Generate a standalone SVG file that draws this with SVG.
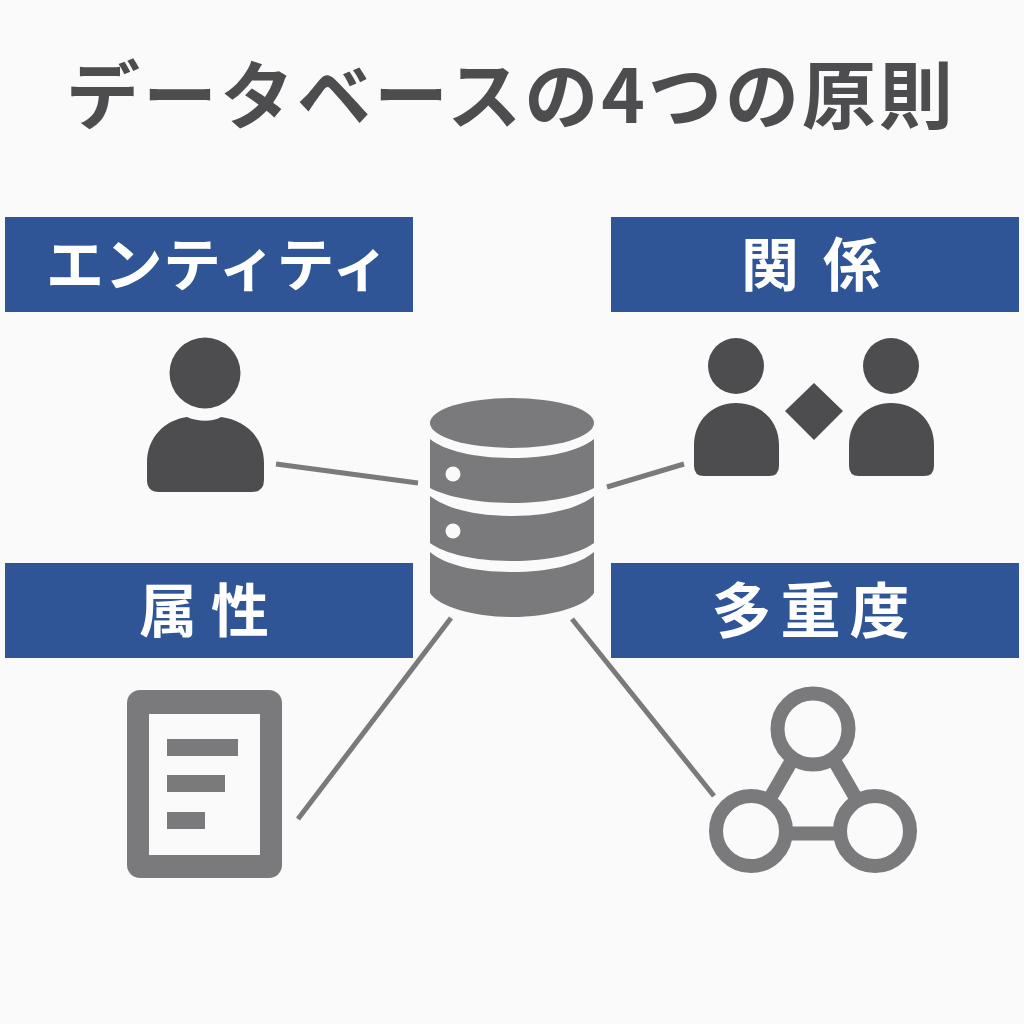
<svg xmlns="http://www.w3.org/2000/svg" width="1024" height="1024" viewBox="0 0 1024 1024">
<style>
.f{font-family:"Noto Sans CJK JP","Noto Sans",sans-serif;font-weight:700}
.h{fill:#fff;font-size:58px;text-anchor:middle}
.b{fill:#2f5597}
.d{fill:#4d4d4f}
.g{fill:#7a7a7c}
.l{stroke:#7a7a7c;stroke-width:5;fill:none}
</style>
<rect width="1024" height="1024" fill="#fafafa"/>
<text id="title" class="f" x="511" y="123" font-size="74" letter-spacing="3" text-anchor="middle" fill="#4d4d4f">データベースの4つの原則</text>
<g id="connectors">
<line class="l" x1="276" y1="464" x2="418" y2="483"/>
<line class="l" x1="607" y1="487" x2="684" y2="464"/>
<line class="l" x1="451" y1="618" x2="298" y2="819"/>
<line class="l" x1="572" y1="619" x2="714" y2="796"/>
</g>
<g id="entity">
<rect class="b" x="5" y="217" width="408" height="95"/>
<text class="f h" x="218" y="286" letter-spacing="0.5">エンティティ</text>
<circle class="d" cx="205" cy="373" r="35.5"/>
<path class="d" d="M147 463C147 437 165 420 187 417C198 422 213 422 221 417C245 420 264 437 264 463V480Q264 492 252 492H159Q147 492 147 480Z"/>
</g>
<g id="relation">
<rect class="b" x="611" y="217" width="408" height="95"/>
<text class="f h" x="823" y="286" letter-spacing="24">関係</text>
<circle class="d" cx="736" cy="366" r="28"/>
<circle class="d" cx="891" cy="366" r="28"/>
<path class="d" d="M694 445C694 420 713 403 736 403C760 403 779 420 779 445V466Q779 476 769 476H704Q694 476 694 466Z"/>
<path class="d" d="M849 445C849 420 868 403 891 403C915 403 934 420 934 445V466Q934 476 924 476H859Q849 476 849 466Z"/>
<path class="d" d="M814 383L843 411L814 440L785 411Z"/>
</g>
<g id="attribute">
<rect class="b" x="5" y="563" width="408" height="95"/>
<text class="f h" x="211" y="632" letter-spacing="14">属性</text>
<rect class="g" x="127" y="690" width="155" height="188" rx="13"/>
<rect x="149" y="714" width="111" height="141" fill="#fafafa"/>
<rect class="g" x="167" y="739" width="71" height="17"/>
<rect class="g" x="167" y="775" width="58" height="17"/>
<rect class="g" x="167" y="812" width="38" height="17"/>
</g>
<g id="multiplicity">
<rect class="b" x="611" y="563" width="408" height="95"/>
<text class="f h" x="815" y="633" font-size="60" style="font-size:60px" letter-spacing="9">多重度</text>
<g stroke="#7a7a7c" stroke-width="14" fill="none">
<line x1="795" y1="755" x2="769" y2="800"/>
<line x1="831" y1="755" x2="857" y2="800"/>
<line x1="780" y1="833.500" x2="846" y2="833.500"/>
<circle cx="813" cy="729" r="35.500" fill="#fafafa"/>
<circle cx="751" cy="831" r="35" fill="#fafafa"/>
<circle cx="875" cy="831" r="35" fill="#fafafa"/>
</g>
</g>
<g id="database">
<ellipse class="g" cx="512" cy="423" rx="82" ry="25"/>
<path class="g" d="M430 439C445 451 475 458 512 458C549 458 579 451 594 439V488C579 496 549 503 512 503C475 503 445 496 430 488Z"/>
<path class="g" d="M430 496C445 508 475 516 512 516C549 516 579 508 594 496V543C579 554 549 561 512 561C475 561 445 554 430 543Z"/>
<path class="g" d="M430 552C445 565 475 572 512 572C549 572 579 565 594 552V593C585 607 550 617 512 617C474 617 439 607 430 593Z"/>
<circle cx="453" cy="474" r="7.500" fill="#fafafa"/>
<circle cx="453" cy="531" r="7.500" fill="#fafafa"/>
</g>
</svg>
